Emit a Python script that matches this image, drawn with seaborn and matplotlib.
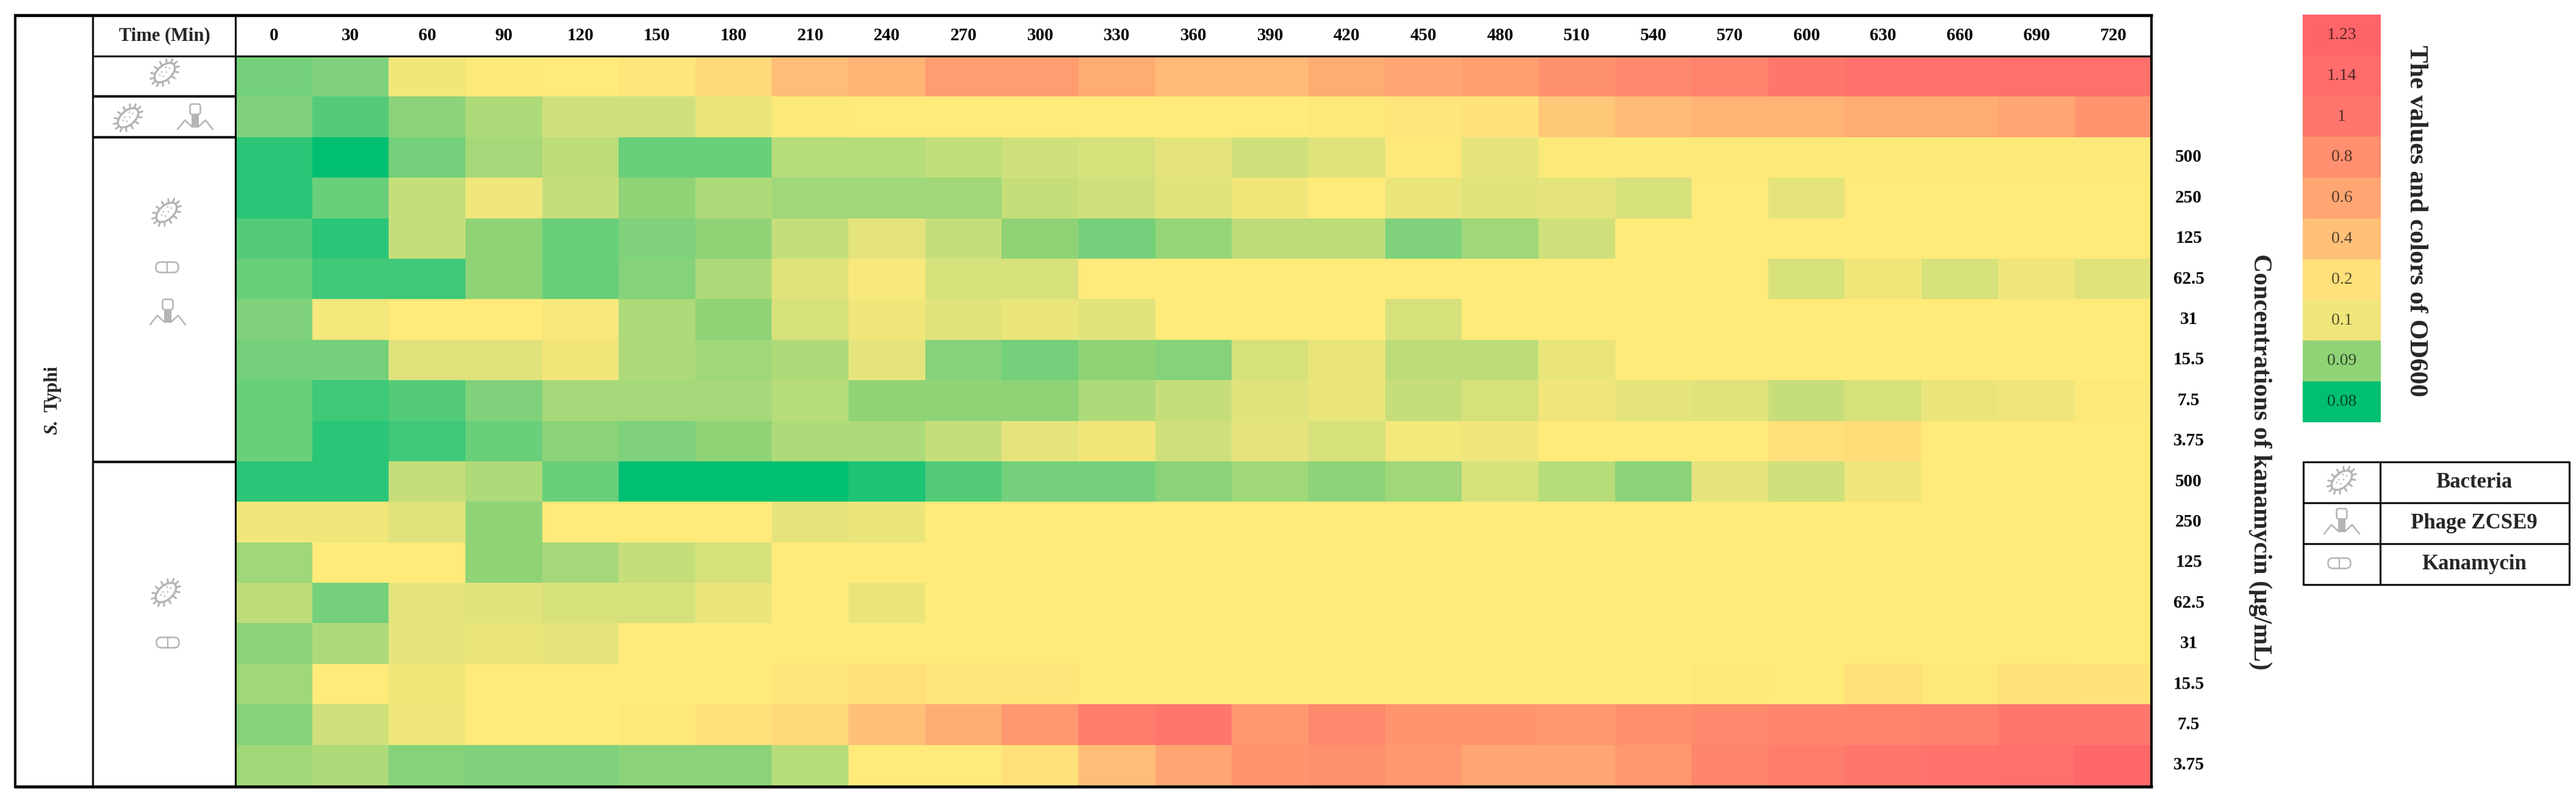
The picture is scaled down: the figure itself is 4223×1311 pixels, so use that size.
import numpy as np
import pandas as pd
import matplotlib
matplotlib.use("Agg")
import matplotlib.pyplot as plt
import seaborn as sns
from matplotlib.colors import LinearSegmentedColormap
from matplotlib.patches import Ellipse, FancyBboxPatch, Rectangle

W, H = 4223, 1311

times = [0, 30, 60, 90, 120, 150, 180, 210, 240, 270, 300, 330, 360, 390, 420, 450, 480, 510, 540, 570, 600, 630, 660, 690, 720]
conc_labels = ["", "", "500", "250", "125", "62.5", "31", "15.5", "7.5", "3.75", "500", "250", "125", "62.5", "31", "15.5", "7.5", "3.75"]

# OD600
bacteria = [.086, .087, .105, .13, .14, .17, .25, .42, .5, .68, .68, .55, .45, .45, .55, .6, .65, .78, .85, .9, 1.0, 1.05, 1.08, 1.1, 1.1]
bact_phage = [.087, .084, .089, .092, .095, .095, .099, .13, .14, .14, .14, .14, .14, .14, .15, .17, .18, .35, .45, .5, .5, .55, .55, .6, .75]
combo_500 = [.082, .08, .086, .0915, .093, .085, .085, .0925, .0925, .0935, .095, .096, .098, .095, .097, .15, .098, .13, .13, .13, .13, .13, .13, .13, .13]
combo_250 = [.082, .085, .094, .1, .094, .09, .092, .091, .091, .091, .094, .095, .097, .105, .14, .099, .097, .098, .096, .14, .098, .14, .14, .14, .14]
combo_125 = [.084, .082, .094, .09, .085, .087, .09, .094, .098, .094, .09, .086, .0905, .093, .093, .087, .091, .095, .14, .14, .14, .14, .14, .14, .14]
combo_62 = [.085, .083, .083, .09, .085, .088, .092, .097, .12, .096, .096, .14, .14, .14, .14, .14, .14, .14, .14, .14, .096, .105, .096, .1, .097]
combo_31 = [.087, .11, .14, .14, .12, .092, .09, .096, .1, .097, .099, .097, .14, .14, .14, .096, .14, .14, .14, .14, .14, .14, .14, .14, .14]
combo_15 = [.086, .086, .097, .097, .105, .092, .091, .092, .098, .088, .086, .09, .088, .096, .099, .093, .093, .099, .14, .14, .14, .14, .14, .14, .14]
combo_7 = [.085, .083, .084, .087, .0915, .0915, .0915, .0925, .09, .09, .09, .092, .094, .097, .099, .094, .096, .1, .098, .097, .094, .096, .099, .1, .13]
combo_3 = [.085, .082, .083, .085, .089, .087, .09, .092, .092, .094, .098, .105, .095, .098, .096, .11, .1, .14, .14, .14, .2, .21, .14, .14, .14]
kan_500 = [.082, .082, .094, .092, .085, .08, .08, .08, .0815, .084, .086, .086, .089, .091, .0895, .091, .096, .0925, .089, .098, .095, .1, .14, .14, .14]
kan_250 = [.1, .1, .097, .09, .14, .14, .14, .098, .099, .14, .14, .14, .14, .14, .14, .14, .14, .14, .14, .14, .14, .14, .14, .14, .14]
kan_125 = [.091, .14, .14, .09, .0915, .094, .096, .14, .14, .14, .14, .14, .14, .14, .14, .14, .14, .14, .14, .14, .14, .14, .14, .14, .14]
kan_62 = [.093, .086, .098, .097, .096, .096, .099, .14, .099, .14, .14, .14, .14, .14, .14, .14, .14, .14, .14, .14, .14, .14, .14, .14, .14]
kan_31 = [.089, .092, .098, .099, .098, .14, .14, .14, .14, .14, .14, .14, .14, .14, .14, .14, .14, .14, .14, .14, .14, .14, .14, .14, .14]
kan_15 = [.091, .14, .105, .14, .14, .14, .14, .17, .2, .17, .17, .14, .14, .14, .14, .14, .14, .14, .14, .15, .14, .2, .15, .2, .18]
kan_7 = [.088, .095, .1, .14, .14, .15, .2, .25, .4, .55, .72, .95, 1.0, .72, .85, .75, .75, .72, .8, .85, .88, .9, .92, 1.0, 1.0]
kan_3 = [.091, .092, .088, .087, .087, .089, .089, .0925, .14, .14, .2, .42, .6, .75, .78, .72, .6, .6, .72, .88, .95, 1.0, 1.05, 1.1, 1.18]

scale_values = [1.23, 1.14, 1, 0.8, 0.6, 0.4, 0.2, 0.1, 0.09, 0.08]
scale_labels = ["1.23", "1.14", "1", "0.8", "0.6", "0.4", "0.2", "0.1", "0.09", "0.08"]
key_labels = ["Bacteria", "Phage ZCSE9", "Kanamycin"]

# colour scale nodes, taken from the legend strip and the green cells
nodes = [.08, .083, .085, .087, .09, .0915, .093, .095, .097, .1, .14, .2, .4, .6, .8, 1, 1.14, 1.23]
node_colors = ["#00bf71", "#40c878", "#6bcf7a", "#80d27b", "#90d377", "#a8d97a", "#bedd7a", "#d0e07b", "#e0e37c", "#f0e67b",
               "#ffea7a", "#ffe07a", "#ffc078", "#ffa672", "#ff8f6e", "#ff776c", "#ff6c6b", "#ff6468"]
vmin, vmax = nodes[0], nodes[-1]
cmap = LinearSegmentedColormap.from_list(
    "od600", [((v - vmin) / (vmax - vmin), c) for v, c in zip(nodes, node_colors)], N=8192
)

sns.set_theme(style="white")
plt.rcParams["font.family"] = ["Liberation Serif", "DejaVu Serif"]

GRAY = "#b4b4b4"


def px_axes(fig, x0, y0, x1, y1, **kw):
    return fig.add_axes([x0 / W, 1 - y1 / H, (x1 - x0) / W, (y1 - y0) / H], **kw)


def bacterium(ax, cx, cy, s=1.0):
    ang = np.radians(-42)
    a, b = 20 * s, 11.5 * s
    for t in np.linspace(0, 2 * np.pi, 15)[:-1]:
        ex, ey = a * np.cos(t), b * np.sin(t)
        ox, oy = (a + 7 * s) * np.cos(t), (b + 7 * s) * np.sin(t)
        xs = np.array([ex, ox])
        ys = np.array([ey, oy])
        ax.plot(cx + xs * np.cos(ang) - ys * np.sin(ang), cy + xs * np.sin(ang) + ys * np.cos(ang),
                color=GRAY, lw=2.2, solid_capstyle="round")
    ax.add_patch(Ellipse((cx, cy), 2 * a, 2 * b, angle=-42, fc="white", ec=GRAY, lw=2.4))
    for dx, dy in [(-8, 4), (-2, 6), (3, -1), (8, -7), (2, -9), (-5, -1)]:
        ax.add_patch(Ellipse((cx + dx * s, cy + dy * s), 2.6, 2.6, fc=GRAY, ec="none"))


def pill(ax, cx, cy):
    ax.add_patch(FancyBboxPatch((cx - 14, cy - 4), 28, 8, boxstyle="round,pad=4.5,rounding_size=8",
                                fc="white", ec=GRAY, lw=1.8))
    ax.plot([cx, cx], [cy - 8.5, cy + 8.5], color=GRAY, lw=1.6)


def phage(ax, cx, cy):
    ax.add_patch(FancyBboxPatch((cx - 6, cy - 19), 12, 12, boxstyle="round,pad=2.5,rounding_size=4",
                                fc="white", ec=GRAY, lw=1.8))
    ax.add_patch(Rectangle((cx - 6, cy - 4), 12, 21, fc=GRAY, ec="none"))
    for sign in (-1, 1):
        ax.plot([cx + sign * 5, cx + sign * 17, cx + sign * 29], [cy + 16, cy + 5, cy + 20],
                color=GRAY, lw=1.8, solid_joinstyle="round")


rows = [bacteria, bact_phage, combo_500, combo_250, combo_125, combo_62, combo_31, combo_15, combo_7, combo_3,
        kan_500, kan_250, kan_125, kan_62, kan_31, kan_15, kan_7, kan_3]
df = pd.DataFrame(rows, columns=times)

fig = plt.figure(figsize=(W / 100, H / 100), dpi=100, facecolor="white")

# main heatmap
ax = px_axes(fig, 386, 92, 3527, 1287)
sns.heatmap(df, ax=ax, cmap=cmap, vmin=vmin, vmax=vmax, cbar=False, linewidths=0,
            xticklabels=times, yticklabels=conc_labels)
ax.set_xlabel("")
ax.set_ylabel("")
ax.xaxis.tick_top()
ax.yaxis.tick_right()
ax.tick_params(axis="x", length=0, pad=24, labelrotation=0)
ax.tick_params(axis="y", length=0, pad=44, labelrotation=0)
for t in ax.get_xticklabels():
    t.set(fontsize=21, fontweight="bold", va="center", ha="center", color="black")
for t in ax.get_yticklabels():
    t.set(fontsize=21, fontweight="bold", va="center", ha="center", color="black")

# legend strip
ax_scale = px_axes(fig, 3775, 24, 3903, 692)
sns.heatmap(pd.DataFrame({"od": scale_values}), ax=ax_scale, cmap=cmap, vmin=vmin, vmax=vmax, cbar=False,
            xticklabels=False, yticklabels=False, linewidths=0,
            annot=np.array(scale_labels).reshape(-1, 1), fmt="",
            annot_kws={"fontsize": 20})
for t, v in zip(ax_scale.texts, scale_values):
    r, g, b, _ = cmap((v - vmin) / (vmax - vmin))
    t.set_color((r * .35, g * .35, b * .35))
ax_scale.set_xlabel("")
ax_scale.set_ylabel("")

# table lines, icons and labels in pixel coordinates
over = px_axes(fig, 0, 0, W, H, zorder=5)
over.set_xlim(0, W)
over.set_ylim(H, 0)
over.axis("off")
over.patch.set_alpha(0)


def hline(x0, x1, y, px=3.0):
    over.plot([x0, x1], [y, y], color="black", lw=px * .72, solid_capstyle="butt")


def vline(x, y0, y1, px=3.0):
    over.plot([x, x], [y0, y1], color="black", lw=px * .72, solid_capstyle="butt")


hline(23, 3529, 25, 5)
hline(23, 3529, 1289, 5)
vline(25, 23, 1291, 4)
vline(3527, 23, 1291, 4)
vline(152, 25, 1289, 3)
vline(386, 25, 1289, 3)
hline(152, 3527, 92, 3)
hline(152, 386, 158, 4)
hline(152, 386, 225, 4)
hline(152, 386, 757, 4)

over.text(270, 59, "Time (Min)", fontsize=22, fontweight="bold", ha="center", va="center")
over.text(86, 712, "S.", fontsize=22, fontweight="bold", fontstyle="italic", rotation=90, ha="center", va="bottom")
over.text(86, 675, "Typhi", fontsize=22, fontweight="bold", rotation=90, ha="center", va="bottom")
over.text(3705, 757, "Concentrations of kanamycin (µg/mL)", fontsize=30, fontweight="bold",
          rotation=-90, ha="center", va="center")
over.text(3961, 362, "The values and colors of OD600", fontsize=30.5, fontweight="bold",
          rotation=-90, ha="center", va="center")

bacterium(over, 270, 119)
bacterium(over, 210, 193)
phage(over, 320, 192)
bacterium(over, 273, 348)
pill(over, 274, 438)
phage(over, 275, 512)
bacterium(over, 272, 971)
pill(over, 275, 1053)

# key table
key_y = [757, 824, 891, 958]
for y in key_y:
    hline(3775, 4213, y, 3)
for x in (3776, 3902, 4212):
    vline(x, 756, 959, 3)
for i, lab in enumerate(key_labels):
    over.text(4056, (key_y[i] + key_y[i + 1]) / 2, lab, fontsize=25, fontweight="bold", ha="center", va="center")
bacterium(over, 3839, 787)
phage(over, 3839, 855)
pill(over, 3835, 923)

fig.savefig("out.png", dpi=100)
